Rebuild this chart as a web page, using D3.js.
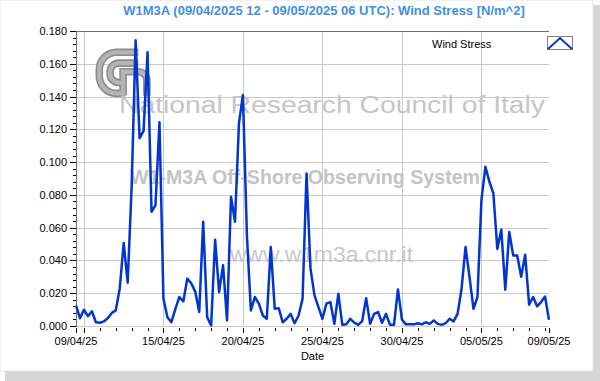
<!DOCTYPE html>
<html>
<head>
<meta charset="utf-8">
<script src="https://cdn.jsdelivr.net/npm/d3@7"></script>
<style>
  body { margin: 0; background: #fff; }
  text { font-family: "Liberation Sans", Arial, sans-serif; }
</style>
</head>
<body>
<svg id="chart" width="600" height="381"></svg>
<script>
// data: W1M3A wind stress, 6-hourly from 09/04/2025 12 UTC
const startTime = "2025-04-09T12:00:00Z";
const endTime = "2025-05-09T06:00:00Z";
const stepHours = 6;

const windStress = [
  0.0125, 0.0048, 0.0099, 0.0060, 0.0090, 0.0023, 0.0020, 0.0028, 0.0048, 0.0080,
  0.0095, 0.0228, 0.0507, 0.0264, 0.0850, 0.1743, 0.1146, 0.1190, 0.1670, 0.0697,
  0.0738, 0.1243, 0.0166, 0.0054, 0.0023, 0.0105, 0.0177, 0.0150, 0.0289, 0.0260,
  0.0210, 0.0085, 0.0636, 0.0054, 0.0003, 0.0527, 0.0207, 0.0370, 0.0034, 0.0789,
  0.0636, 0.1237, 0.1410, 0.0550, 0.0095, 0.0177, 0.0136, 0.0064, 0.0044, 0.0482,
  0.0105, 0.0109, 0.0023, 0.0044, 0.0074, 0.0017, 0.0064, 0.0166, 0.0931, 0.0350,
  0.0187, 0.0115, 0.0044, 0.0136, 0.0146, 0.0013, 0.0197, 0.0007, 0.0010, 0.0044,
  0.0020, 0.0007, 0.0030, 0.0170, 0.0013, 0.0074, 0.0085, 0.0020, 0.0074, 0.0007,
  0.0007, 0.0223, 0.0040, 0.0010, 0.0010, 0.0010, 0.0017, 0.0010, 0.0023, 0.0013,
  0.0034, 0.0013, 0.0007, 0.0017, 0.0044, 0.0028, 0.0074, 0.0227, 0.0482, 0.0300,
  0.0105, 0.0177, 0.0768, 0.0972, 0.0880, 0.0810, 0.0470, 0.0589, 0.0221, 0.0574,
  0.0430, 0.0430, 0.0300, 0.0435, 0.0130, 0.0177, 0.0120, 0.0146, 0.0180, 0.0038
];

const yTicks = [0, 0.02, 0.04, 0.06, 0.08, 0.10, 0.12, 0.14, 0.16, 0.18];
const gridDates = ["2025-04-10", "2025-04-15", "2025-04-20", "2025-04-25", "2025-04-30", "2025-05-05"];
const xLabelTimes = ["2025-04-09T12:00:00Z", "2025-04-15", "2025-04-20", "2025-04-25", "2025-04-30", "2025-05-05", "2025-05-09T06:00:00Z"];
const xLabels = ["09/04/25", "15/04/25", "20/04/25", "25/04/25", "30/04/25", "05/05/25", "09/05/25"];

const titleText = "W1M3A (09/04/2025 12 - 09/05/2025 06 UTC): Wind Stress [N/m^2]";
const legendText = "Wind Stress";

const svg = d3.select("#chart");
const plotLeft = 76, plotRight = 549, plotTop = 31, plotBottom = 326;

const t0 = new Date(startTime);
const t1 = new Date(endTime);
const points = windStress.map((v, i) => ({ t: new Date(t0.getTime() + i * stepHours * 3600e3), v }));

const x = d3.scaleUtc().domain([t0, t1]).range([plotLeft, plotRight]);
const y = d3.scaleLinear().domain([0, 0.18]).range([plotBottom, plotTop]);

// frame + shadow
svg.append("rect").attr("x", 5).attr("y", 5).attr("width", 595).attr("height", 376).attr("fill", "#d6d6d6");
svg.append("rect").attr("x", 0).attr("y", 0).attr("width", 593).attr("height", 371)
  .attr("fill", "#fff").attr("stroke", "#e3e3e3");

// title
svg.append("text").attr("x", 324).attr("y", 15).attr("text-anchor", "middle")
  .attr("font-size", 13).attr("font-weight", "bold").attr("fill", "#3f8fe8").text(titleText);

// grid
const grid = svg.append("g");
grid.selectAll("line.h").data(yTicks).join("line")
  .attr("x1", plotLeft).attr("x2", plotRight)
  .attr("y1", d => Math.round(y(d)) + 0.5).attr("y2", d => Math.round(y(d)) + 0.5)
  .attr("stroke", "#c8c8c8");
grid.selectAll("line.v").data(gridDates).join("line")
  .attr("x1", d => Math.round(x(new Date(d))) + 0.5).attr("x2", d => Math.round(x(new Date(d))) + 0.5)
  .attr("y1", plotTop).attr("y2", plotBottom)
  .attr("stroke", "#c8c8c8");

// watermark
const wm = svg.append("g");
const logo = wm.append("g").attr("transform", "translate(95,48) scale(1.08)").attr("fill", "none");
[[0, "#8c8c8c"], [1, "#b4b4b4"]].forEach(([k, col]) => {
  const sw = k === 0 ? 7 : 4;
  logo.append("path").attr("d", "M40,4 H20 A16,16 0 0 0 4,20 V26 A16,16 0 0 0 20,42 H28")
    .attr("stroke", col).attr("stroke-width", sw);
  logo.append("path").attr("d", "M40,14 H22 A8,8 0 0 0 14,22 V24 A8,8 0 0 0 22,32 H28")
    .attr("stroke", col).attr("stroke-width", sw);
  logo.append("path").attr("d", "M26,44 V22 H40 A8,8 0 0 1 48,30 V44")
    .attr("stroke", col).attr("stroke-width", sw);
});
wm.append("text").attr("x", 119).attr("y", 113).attr("font-size", 23).attr("fill", "#c6c6c6")
  .attr("textLength", 426).attr("lengthAdjust", "spacingAndGlyphs").text("National Research Council of Italy");
wm.append("text").attr("x", 130).attr("y", 184).attr("font-size", 20).attr("font-weight", "bold")
  .attr("fill", "#c4c4c4").attr("textLength", 350).attr("lengthAdjust", "spacingAndGlyphs")
  .text("W1-M3A Off-Shore Observing System");
wm.append("text").attr("x", 230).attr("y", 262).attr("font-size", 22).attr("fill", "#c8c8c8")
  .attr("textLength", 183).attr("lengthAdjust", "spacingAndGlyphs").text("www.w1m3a.cnr.it");

// axes
svg.append("line").attr("x1", plotLeft + 0.5).attr("x2", plotLeft + 0.5).attr("y1", plotTop).attr("y2", plotBottom + 1).attr("stroke", "#707070");
svg.append("line").attr("x1", plotLeft).attr("x2", plotRight).attr("y1", plotTop + 0.5).attr("y2", plotTop + 0.5).attr("stroke", "#707070");

const minorY = d3.range(0, 0.18001, 0.004);
svg.append("g").selectAll("line").data(minorY).join("line")
  .attr("x1", plotLeft - 3).attr("x2", plotLeft)
  .attr("y1", d => Math.round(y(d)) + 0.5).attr("y2", d => Math.round(y(d)) + 0.5)
  .attr("stroke", "#000");
svg.append("g").selectAll("line").data(yTicks).join("line")
  .attr("x1", plotLeft - 6).attr("x2", plotLeft)
  .attr("y1", d => Math.round(y(d)) + 0.5).attr("y2", d => Math.round(y(d)) + 0.5)
  .attr("stroke", "#000");
svg.append("g").selectAll("text").data(yTicks).join("text")
  .attr("x", plotLeft - 9).attr("y", d => y(d) + 4).attr("text-anchor", "end")
  .attr("font-size", 11).attr("fill", "#000").text(d => d3.format(".3f")(d));

const days = d3.utcDay.range(d3.utcDay.ceil(t0), t1);
svg.append("g").selectAll("line").data(days).join("line")
  .attr("x1", d => Math.round(x(d)) + 0.5).attr("x2", d => Math.round(x(d)) + 0.5)
  .attr("y1", plotBottom + 2).attr("y2", plotBottom + 5).attr("stroke", "#000");
const majors = gridDates.map(d => new Date(d)).concat([t0, t1]);
svg.append("g").selectAll("line").data(majors).join("line")
  .attr("x1", d => Math.round(x(d)) + 0.5).attr("x2", d => Math.round(x(d)) + 0.5)
  .attr("y1", plotBottom + 2).attr("y2", plotBottom + 7).attr("stroke", "#000");
svg.append("g").selectAll("text").data(xLabels).join("text")
  .attr("x", (d, i) => x(new Date(xLabelTimes[i]))).attr("y", 345).attr("text-anchor", "middle")
  .attr("font-size", 11).attr("fill", "#000").text(d => d);
svg.append("text").attr("x", (plotLeft + plotRight) / 2).attr("y", 360).attr("text-anchor", "middle")
  .attr("font-size", 11).attr("fill", "#000").text("Date");

// series
svg.append("path").datum(points)
  .attr("d", d3.line().x(d => x(d.t)).y(d => y(d.v)))
  .attr("fill", "none").attr("stroke", "#0035d0").attr("stroke-width", 2.5)
  .attr("stroke-linejoin", "round");

// legend
svg.append("text").attr("x", 432).attr("y", 48).attr("font-size", 11).attr("fill", "#000").text(legendText);
svg.append("rect").attr("x", 547.5).attr("y", 36.5).attr("width", 25).attr("height", 13)
  .attr("fill", "#fff").attr("stroke", "#808080");
svg.append("path").attr("d", "M548,49 L560,38 L572,49").attr("fill", "none")
  .attr("stroke", "#0035d0").attr("stroke-width", 2);
</script>
</body>
</html>
